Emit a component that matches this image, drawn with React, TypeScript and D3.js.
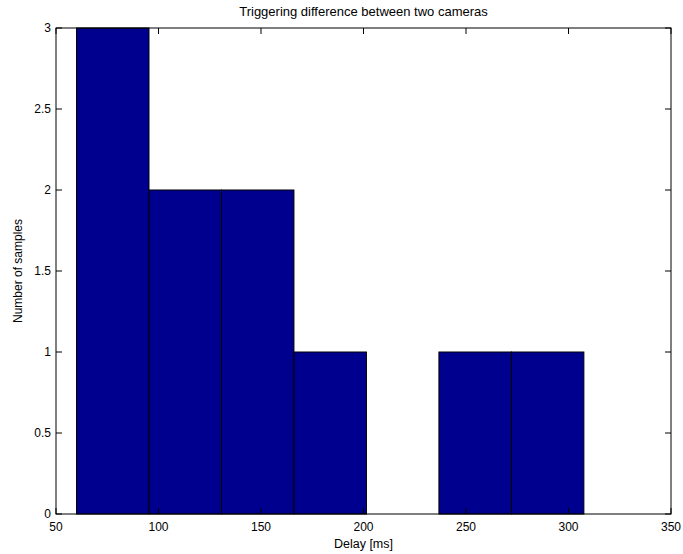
import React from "react";
import * as d3 from "d3";

// Histogram of trigger delays: bin edges in ms and sample counts per bin
const binEdges = [60, 95.36, 130.71, 166.07, 201.43, 236.79, 272.14, 307.5];
const counts = [3, 2, 2, 1, 0, 1, 1];
const xTicks = [50, 100, 150, 200, 250, 300, 350];
const yTicks = [0, 0.5, 1, 1.5, 2, 2.5, 3];

const title = "Triggering difference between two cameras";
const xLabel = "Delay [ms]";
const yLabel = "Number of samples";

const W = 683;
const H = 554;
const M = { left: 56, right: 12, top: 28, bottom: 40 };
const FONT = "'Liberation Sans', Arial, Helvetica, sans-serif";
const BAR = "#00008f";

export default function App() {
  const x = d3.scaleLinear().domain([50, 350]).range([M.left, W - M.right]);
  const y = d3.scaleLinear().domain([0, 3]).range([H - M.bottom, M.top]);
  const [x0, x1] = x.range();
  const [y0, y1] = y.range();
  const tickLen = 6;

  const bins = counts.map((c, i) => ({ lo: binEdges[i], hi: binEdges[i + 1], c }));

  return (
    <svg width={W} height={H} style={{ position: "absolute", left: 0, top: 0, background: "#fff" }}
      fontFamily={FONT}>
      <rect x={0} y={0} width={W} height={H} fill="#fff" />
      {bins.map((b, i) => (
        <rect key={i}
          x={x(b.lo)} y={y(b.c)}
          width={x(b.hi) - x(b.lo)} height={y(0) - y(b.c)}
          fill={BAR} stroke="#000" strokeWidth={1} />
      ))}
      {/* box */}
      <rect x={x0} y={y1} width={x1 - x0} height={y0 - y1} fill="none" stroke="#000" strokeWidth={1} />
      {/* x ticks, inward on bottom and top */}
      {xTicks.map((t) => (
        <g key={"x" + t}>
          <line x1={x(t)} x2={x(t)} y1={y0} y2={y0 - tickLen} stroke="#000" />
          <line x1={x(t)} x2={x(t)} y1={y1} y2={y1 + tickLen} stroke="#000" />
          <text x={x(t)} y={y0 + 17} fontSize={12} textAnchor="middle">{t}</text>
        </g>
      ))}
      {/* y ticks, inward on left and right */}
      {yTicks.map((t) => (
        <g key={"y" + t}>
          <line x1={x0} x2={x0 + tickLen} y1={y(t)} y2={y(t)} stroke="#000" />
          <line x1={x1} x2={x1 - tickLen} y1={y(t)} y2={y(t)} stroke="#000" />
          <text x={x0 - 5} y={y(t) + 4} fontSize={12} textAnchor="end">{t}</text>
        </g>
      ))}
      <text x={(x0 + x1) / 2} y={16} fontSize={13} textAnchor="middle">{title}</text>
      <text x={(x0 + x1) / 2} y={548} fontSize={12.5} textAnchor="middle">{xLabel}</text>
      <text transform={`translate(22, 271) rotate(-90)`} fontSize={12} textAnchor="middle">{yLabel}</text>
    </svg>
  );
}
